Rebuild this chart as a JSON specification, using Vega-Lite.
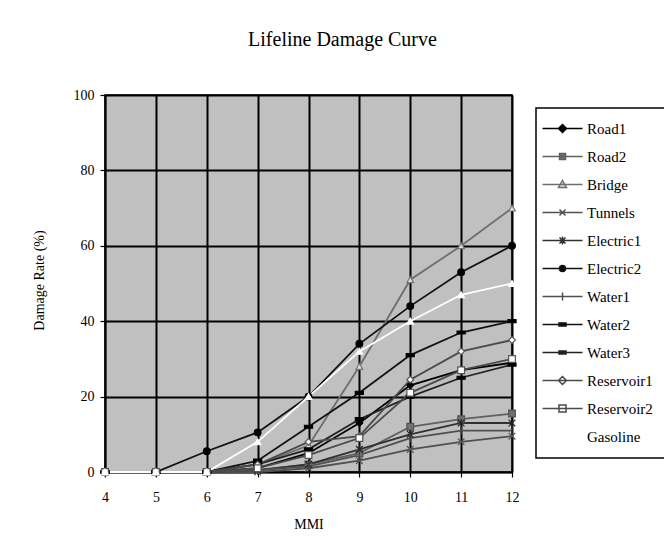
{
  "$schema": "https://vega.github.io/schema/vega-lite/v6.json",
  "autosize": {"type": "none"},
  "padding": {"left": 105, "top": 95, "right": 152, "bottom": 85},
  "width": 407,
  "height": 377,
  "background": "white",
  "title": {"text": "Lifeline Damage Curve", "anchor": "middle", "frame": "group", "dx": 34, "offset": 28, "baseline": "middle", "font": "Liberation Serif", "fontSize": 20, "fontWeight": "normal", "color": "black"},
  "config": {
    "view": {"fill": "#c0c0c0", "stroke": "black", "strokeWidth": 1.5},
    "axis": {"labelFont": "Liberation Serif", "labelFontSize": 14, "labelColor": "black", "titleFont": "Liberation Serif", "titleFontSize": 14, "titleFontWeight": "normal", "titleColor": "black", "grid": true, "gridColor": "black", "gridWidth": 2, "gridOpacity": 1, "domainColor": "black", "domainWidth": 1.5, "tickColor": "black", "tickSize": 5, "tickWidth": 1.2}
  },
  "data": {"values": [
    {"series":"Road1","mmi":4,"rate":0},{"series":"Road1","mmi":5,"rate":0},{"series":"Road1","mmi":6,"rate":0},{"series":"Road1","mmi":7,"rate":1},{"series":"Road1","mmi":8,"rate":5},{"series":"Road1","mmi":9,"rate":13},{"series":"Road1","mmi":10,"rate":23},{"series":"Road1","mmi":11,"rate":27},{"series":"Road1","mmi":12,"rate":29},
    {"series":"Road2","mmi":4,"rate":0},{"series":"Road2","mmi":5,"rate":0},{"series":"Road2","mmi":6,"rate":0},{"series":"Road2","mmi":7,"rate":0.5},{"series":"Road2","mmi":8,"rate":2},{"series":"Road2","mmi":9,"rate":5},{"series":"Road2","mmi":10,"rate":12},{"series":"Road2","mmi":11,"rate":14},{"series":"Road2","mmi":12,"rate":15.5},
    {"series":"Bridge","mmi":4,"rate":0},{"series":"Bridge","mmi":5,"rate":0},{"series":"Bridge","mmi":6,"rate":0},{"series":"Bridge","mmi":7,"rate":2},{"series":"Bridge","mmi":8,"rate":7},{"series":"Bridge","mmi":9,"rate":28},{"series":"Bridge","mmi":10,"rate":51},{"series":"Bridge","mmi":11,"rate":60},{"series":"Bridge","mmi":12,"rate":70},
    {"series":"Tunnels","mmi":4,"rate":0},{"series":"Tunnels","mmi":5,"rate":0},{"series":"Tunnels","mmi":6,"rate":0},{"series":"Tunnels","mmi":7,"rate":0},{"series":"Tunnels","mmi":8,"rate":1},{"series":"Tunnels","mmi":9,"rate":3},{"series":"Tunnels","mmi":10,"rate":6},{"series":"Tunnels","mmi":11,"rate":8},{"series":"Tunnels","mmi":12,"rate":9.5},
    {"series":"Electric1","mmi":4,"rate":0},{"series":"Electric1","mmi":5,"rate":0},{"series":"Electric1","mmi":6,"rate":0},{"series":"Electric1","mmi":7,"rate":0.5},{"series":"Electric1","mmi":8,"rate":2},{"series":"Electric1","mmi":9,"rate":6},{"series":"Electric1","mmi":10,"rate":10},{"series":"Electric1","mmi":11,"rate":13},{"series":"Electric1","mmi":12,"rate":13},
    {"series":"Electric2","mmi":4,"rate":0},{"series":"Electric2","mmi":5,"rate":0},{"series":"Electric2","mmi":6,"rate":5.5},{"series":"Electric2","mmi":7,"rate":10.5},{"series":"Electric2","mmi":8,"rate":20},{"series":"Electric2","mmi":9,"rate":34},{"series":"Electric2","mmi":10,"rate":44},{"series":"Electric2","mmi":11,"rate":53},{"series":"Electric2","mmi":12,"rate":60},
    {"series":"Water1","mmi":4,"rate":0},{"series":"Water1","mmi":5,"rate":0},{"series":"Water1","mmi":6,"rate":0},{"series":"Water1","mmi":7,"rate":0.5},{"series":"Water1","mmi":8,"rate":1.5},{"series":"Water1","mmi":9,"rate":4.5},{"series":"Water1","mmi":10,"rate":9},{"series":"Water1","mmi":11,"rate":11},{"series":"Water1","mmi":12,"rate":11},
    {"series":"Water2","mmi":4,"rate":0},{"series":"Water2","mmi":5,"rate":0},{"series":"Water2","mmi":6,"rate":0},{"series":"Water2","mmi":7,"rate":3},{"series":"Water2","mmi":8,"rate":12},{"series":"Water2","mmi":9,"rate":21},{"series":"Water2","mmi":10,"rate":31},{"series":"Water2","mmi":11,"rate":37},{"series":"Water2","mmi":12,"rate":40},
    {"series":"Water3","mmi":4,"rate":0},{"series":"Water3","mmi":5,"rate":0},{"series":"Water3","mmi":6,"rate":0},{"series":"Water3","mmi":7,"rate":2},{"series":"Water3","mmi":8,"rate":6},{"series":"Water3","mmi":9,"rate":14},{"series":"Water3","mmi":10,"rate":20},{"series":"Water3","mmi":11,"rate":25},{"series":"Water3","mmi":12,"rate":28.5},
    {"series":"Reservoir1","mmi":4,"rate":0},{"series":"Reservoir1","mmi":5,"rate":0},{"series":"Reservoir1","mmi":6,"rate":0},{"series":"Reservoir1","mmi":7,"rate":2},{"series":"Reservoir1","mmi":8,"rate":8},{"series":"Reservoir1","mmi":9,"rate":9.5},{"series":"Reservoir1","mmi":10,"rate":24.5},{"series":"Reservoir1","mmi":11,"rate":32},{"series":"Reservoir1","mmi":12,"rate":35},
    {"series":"Reservoir2","mmi":4,"rate":0},{"series":"Reservoir2","mmi":5,"rate":0},{"series":"Reservoir2","mmi":6,"rate":0},{"series":"Reservoir2","mmi":7,"rate":1},{"series":"Reservoir2","mmi":8,"rate":4.5},{"series":"Reservoir2","mmi":9,"rate":9},{"series":"Reservoir2","mmi":10,"rate":21},{"series":"Reservoir2","mmi":11,"rate":27},{"series":"Reservoir2","mmi":12,"rate":30},
    {"series":"Gasoline","mmi":4,"rate":0},{"series":"Gasoline","mmi":5,"rate":0},{"series":"Gasoline","mmi":6,"rate":0},{"series":"Gasoline","mmi":7,"rate":8},{"series":"Gasoline","mmi":8,"rate":20},{"series":"Gasoline","mmi":9,"rate":32},{"series":"Gasoline","mmi":10,"rate":40},{"series":"Gasoline","mmi":11,"rate":47},{"series":"Gasoline","mmi":12,"rate":50}
  ]},
  "encoding": {
    "x": {"field": "mmi", "type": "quantitative", "title": "MMI", "scale": {"domain": [4, 12], "nice": false, "zero": false}, "axis": {"values": [4,5,6,7,8,9,10,11,12], "labelPadding": 13, "titlePadding": 13, "labelFlush": false}},
    "y": {"field": "rate", "type": "quantitative", "title": "Damage Rate (%)", "scale": {"domain": [0, 100], "nice": false}, "axis": {"values": [0,20,40,60,80,100], "labelPadding": 6, "titleX": -66, "titleY": 185, "titleBaseline": "middle", "titleAlign": "center"}}
  },
  "layer": [
    {
      "mark": {"type": "line", "strokeWidth": 1.8},
      "encoding": {
        "stroke": {"field": "series", "type": "nominal",
          "scale": {"domain": ["Road1","Road2","Bridge","Tunnels","Electric1","Electric2","Water1","Water2","Water3","Reservoir1","Reservoir2","Gasoline"],
                    "range": ["#000000","#606060","#6e6e6e","#505050","#303030","#111111","#505050","#111111","#222222","#4a4a4a","#4a4a4a","#ffffff"]},
          "legend": {
            "title": null, "orient": "none", "legendX": 431, "legendY": 13,
            "padding": 13, "strokeColor": "black", "fillColor": "white",
            "labelFont": "Liberation Serif", "labelFontSize": 15, "labelColor": "black",
            "symbolSize": 100, "symbolOffset": 6, "labelOffset": 17, "rowPadding": 12,
            "symbolStrokeWidth": 1.5,
            "encode": {
              "legend": {"update": {"strokeWidth": {"value": 1.5}}},
              "symbols": {"update": {
              "shape": {"signal": "['M-4,0L4,0M0,-0.8L0.8,0L0,0.8L-0.8,0Z','M-4,0L4,0M-0.6,-0.6L0.6,-0.6L0.6,0.6L-0.6,0.6Z','M-4,0L4,0M0,-0.8L0.8,0.6L-0.8,0.6Z','M-4,0L4,0M-0.6,-0.6L0.6,0.6M-0.6,0.6L0.6,-0.6','M-4,0L4,0M-0.6,-0.6L0.6,0.6M-0.6,0.6L0.6,-0.6M0,-0.8L0,0.8','M-4,0L4,0M-0.6,0A0.6,0.6,0,1,0,0.6,0A0.6,0.6,0,1,0,-0.6,0Z','M-4,0L4,0M0,-0.8L0,0.8','M-4,0L4,0M-0.7,-0.3L0.7,-0.3L0.7,0.3L-0.7,0.3Z','M-4,0L4,0M-0.7,-0.3L0.7,-0.3L0.7,0.3L-0.7,0.3Z','M-4,0L4,0M0,-0.8L0.8,0L0,0.8L-0.8,0Z','M-4,0L4,0M-0.7,-0.7L0.7,-0.7L0.7,0.7L-0.7,0.7Z','M-4,0L4,0'][indexof(['Road1','Road2','Bridge','Tunnels','Electric1','Electric2','Water1','Water2','Water3','Reservoir1','Reservoir2','Gasoline'], datum.value)]"},
              "fill": {"signal": "['#000000','#707070','#e0e0e0','#ffffff','#ffffff','#000000','#ffffff','#000000','#000000','#ffffff','#ffffff','#ffffff'][indexof(['Road1','Road2','Bridge','Tunnels','Electric1','Electric2','Water1','Water2','Water3','Reservoir1','Reservoir2','Gasoline'], datum.value)]"},
              "stroke": {"signal": "['#000000','#555555','#666666','#555555','#222222','#000000','#555555','#000000','#000000','#555555','#555555','#ffffff'][indexof(['Road1','Road2','Bridge','Tunnels','Electric1','Electric2','Water1','Water2','Water3','Reservoir1','Reservoir2','Gasoline'], datum.value)]"},
              "strokeWidth": {"value": 1.5},
              "size": {"value": 100},
              "opacity": {"value": 1}
            }}}
          }
        }
      }
    },
    {
      "mark": {"type": "point", "filled": true, "strokeWidth": 1.2, "opacity": 1},
      "encoding": {
        "shape": {"field": "series", "type": "nominal", "legend": null,
          "scale": {"domain": ["Road1","Road2","Bridge","Tunnels","Electric1","Electric2","Water1","Water2","Water3","Reservoir1","Reservoir2","Gasoline"],
                    "range": ["diamond","square","triangle-up","M-1,-1L1,1M-1,1L1,-1","M-1,-1L1,1M-1,1L1,-1M0,-1.3L0,1.3","circle","M0,-1.3L0,1.3","M-1.2,-0.45L1.2,-0.45L1.2,0.45L-1.2,0.45Z","M-1.2,-0.45L1.2,-0.45L1.2,0.45L-1.2,0.45Z","diamond","square","triangle-up"]}},
        "size": {"field": "series", "type": "nominal", "legend": null,
          "scale": {"domain": ["Road1","Road2","Bridge","Tunnels","Electric1","Electric2","Water1","Water2","Water3","Reservoir1","Reservoir2","Gasoline"],
                    "range": [45,45,50,40,40,50,40,40,40,45,50,90]}},
        "fill": {"field": "series", "type": "nominal", "legend": null,
          "scale": {"domain": ["Road1","Road2","Bridge","Tunnels","Electric1","Electric2","Water1","Water2","Water3","Reservoir1","Reservoir2","Gasoline"],
                    "range": ["#000000","#707070","#e0e0e0","#555555","#222222","#000000","#444444","#000000","#000000","#ffffff","#ffffff","#ffffff"]}},
        "stroke": {"field": "series", "type": "nominal", "legend": null,
          "scale": {"domain": ["Road1","Road2","Bridge","Tunnels","Electric1","Electric2","Water1","Water2","Water3","Reservoir1","Reservoir2","Gasoline"],
                    "range": ["#000000","#555555","#777777","#555555","#222222","#000000","#444444","#000000","#000000","#555555","#555555","#ffffff"]}}
      }
    }
  ],
  "resolve": {"scale": {"stroke": "independent"}, "legend": {"stroke": "independent"}}
}
